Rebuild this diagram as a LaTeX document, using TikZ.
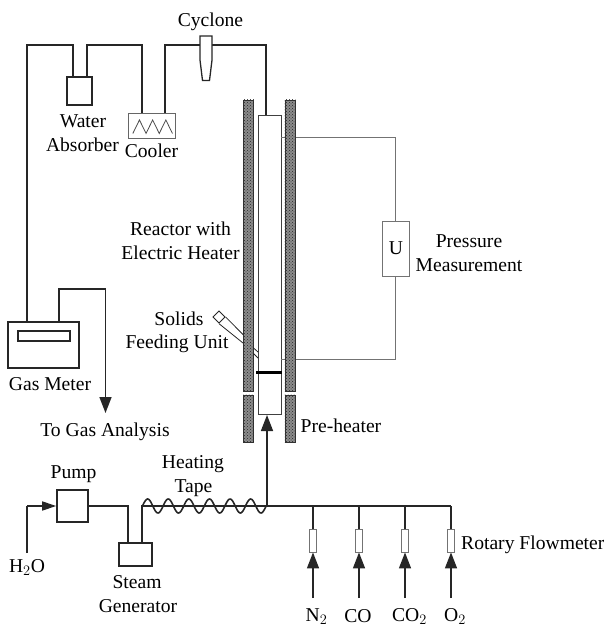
\documentclass[tikz,border=0pt]{standalone}
\usepackage{fontspec}
\setmainfont{Liberation Serif}
\usepackage{tikz}
\usetikzlibrary{arrows.meta,positioning,calc,patterns}

\tikzset{
  pipe/.style={line width=1.6pt, black!85},
  thinline/.style={line width=0.8pt, black!55},
  feed/.style={pipe, -{Triangle[length=16pt,width=12pt]}},
  unitbox/.style={draw, black!85, line width=1.6pt, fill=white, inner sep=0pt},
  heater/.style={draw, black!80, line width=0.7pt, fill=black!45, inner sep=0pt, minimum width=10pt},
  meterbox/.style={draw, black!55, line width=0.9pt, fill=white, inner sep=0pt, minimum width=7pt, minimum height=23pt},
  lbl/.style={font=\fontsize{19.6}{24}\selectfont, inner sep=0pt, anchor=base},
  lblw/.style={lbl, anchor=base west},
}

\begin{document}
\begin{tikzpicture}[x=1pt,y=-1pt]
  \useasboundingbox (0,0) rectangle (603,626);

  % reactor and pressure loop first, the heaters sit on top
  \node[draw, black!75, line width=1pt, fill=white, inner sep=0pt, minimum width=23pt, minimum height=299pt] (reactor) at (269.5,264.5) {};
  \coordinate (tapA) at (281,137);
  \coordinate (tapB) at (281,359);
  \node[draw, black!55, line width=0.9pt, fill=white, inner sep=0pt, minimum width=27pt, minimum height=55pt] (ubox) at (395.5,248.5) {};
  \node[lbl] (lu) at (396,254) {U};
  \draw[thinline] (tapA) -| (ubox.north);
  \draw[thinline] (tapB) -| (ubox.south);

  \node[heater, minimum height=291pt] (heatL) at (248.5,245.5) {};
  \node[heater, minimum height=291pt] (heatR) at (290,245.5) {};
  \node[heater, minimum height=47pt] (preL) at (248.5,418.5) {};
  \node[heater, minimum height=47pt] (preR) at (290,418.5) {};
  \foreach \n in {heatL,heatR,preL,preR}
    \fill[pattern=crosshatch dots, pattern color=black!85] (\n.south west) rectangle (\n.north east);

  % distributor plate
  \coordinate (plateL) at (256,372);
  \coordinate (plateR) at (282,372);
  \draw[line width=3pt, black] (plateL) -- (plateR);

  % solids feeding tube
  \node[draw, black!85, line width=0.9pt, fill=white, rotate=45, inner sep=0pt, minimum size=8.5pt] (feeder) at (219,317) {};
  \coordinate (feedA) at (243,343);
  \coordinate (feedB) at (243.5,335);
  \coordinate (feedC) at (253,347.5);
  \coordinate (feedD) at (258,352);
  \coordinate (feedE) at (253,353);
  \coordinate (feedF) at (258,358);
  \draw[thinline, black!85] (feeder.south west) -- (feedA);
  \draw[thinline, black!85] (feeder.south east) -- (feedB);
  \draw[thinline, black!85] (feedC) -- (feedD);
  \draw[thinline, black!85] (feedE) -- (feedF);

  % top line
  \node[unitbox, minimum width=25pt, minimum height=28pt] (absorber) at (79.5,91) {};
  \node[draw, black!60, line width=0.9pt, fill=white, inner sep=0pt, minimum width=47pt, minimum height=25pt] (cooler) at (151.5,126) {};
  \node[unitbox, minimum width=71pt, minimum height=46pt] (meter) at (43.5,345) {};
  \node[unitbox, minimum width=52pt, minimum height=10pt] (window) at (44,336) {};
  \coordinate (topA) at (266,45);
  \draw[pipe] (reactor.north -| topA) -- (topA) -- (165,45) -- (cooler.north -| 165,0);
  \draw[pipe] (cooler.north -| 142,0) -- (142,45) -- (87,45) -- (absorber.north -| 87,0);
  \draw[pipe] (absorber.north -| 73,0) -- (73,45) -- (27,45) -- (meter.north -| 27,0);
  \draw[thinline, black!70] ($(cooler.south west)+(5.3,-5.5)$) -- ++(6.6,-13.5) -- ++(6.6,13.5) -- ++(6.6,-13.5) -- ++(6.6,13.5) -- ++(6.6,-13.5) -- ++(6.6,13.5);
  \draw[unitbox, line width=1.3pt] (200,36) -- (212,36) -- (212,60) -- (209.5,80.5) -- (202.5,80.5) -- (200,60) -- cycle;

  % gas meter outlet
  \coordinate (outA) at (59,289);
  \coordinate (outB) at (105.5,289);
  \coordinate (outC) at (105.5,413);
  \draw[pipe] (meter.north -| outA) -- (outA) -- (outB);
  \draw[feed] (outB) -- (outC);

  % bottom line
  \node[unitbox, minimum width=31pt, minimum height=32pt] (pump) at (72.5,506) {};
  \node[unitbox, minimum width=33pt, minimum height=23pt] (steam) at (135.5,554.5) {};
  \coordinate (waterIn) at (27,553);
  \coordinate (waterUp) at (27,506);
  \coordinate (mainA) at (142,506);
  \coordinate (mainB) at (451,506);
  \coordinate (pumpOut) at (128,506);
  \draw[pipe] (waterIn) -- (waterUp);
  \draw[pipe, -{Triangle[length=14pt,width=9pt]}] (waterUp) -- (pump.west);
  \draw[pipe] (pump.east) -- (pumpOut) -- (steam.north -| pumpOut);
  \draw[pipe] (steam.north -| mainA) -- (mainA) -- (mainB);
  \draw[pipe, domain=0:6, samples=150, smooth, variable=\t] plot ({142.5+20.6*\t},{506-7*sin(360*\t)});
  \coordinate (mainUp) at (267,506);
  \coordinate (reactorIn) at (267,415);
  \draw[feed] (mainUp) -- (reactorIn);

  % gas feeds
  \foreach \x/\n in {313/nit,359/cmo,405/cdi,451/oxy} {
    \node[meterbox] (\n) at (\x,540.5) {};
    \coordinate (\n top) at (\x,506);
    \coordinate (\n in) at (\x,598);
    \draw[pipe] (\n top) -- (\n.north);
    \draw[feed] (\n in) -- (\n.south);
  }

  % labels
  \node[lbl] (lcyclone) at (210.5,26.5) {Cyclone};
  \node[lbl] (lwater) at (83,127) {Water};
  \node[lbl] (labsorber) at (82.5,151) {Absorber};
  \node[lbl] (lcooler) at (151.5,157) {Cooler};
  \node[lbl] (lreactor) at (180.5,235) {Reactor with};
  \node[lbl] (lelectric) at (180.5,259) {Electric Heater};
  \node[lbl] (lpressure) at (469,247) {Pressure};
  \node[lbl] (lmeasure) at (469,271) {Measurement};
  \node[lbl] (lsolids) at (179,325) {Solids};
  \node[lbl] (lfeeding) at (177,348) {Feeding Unit};
  \node[lbl] (lgas) at (50,390) {Gas Meter};
  \node[lbl] (lanalysis) at (105,436) {To Gas Analysis};
  \node[lblw] (lpre) at (300.5,432) {Pre-heater};
  \node[lbl] (lpump) at (73.5,478) {Pump};
  \node[lbl] (lheating) at (193,468) {Heating};
  \node[lbl] (ltape) at (193.5,492) {Tape};
  \node[lbl] (lwaterin) at (27,572) {H$_2$O};
  \node[lbl] (lsteam) at (137,588) {Steam};
  \node[lbl] (lgenerator) at (138,612) {Generator};
  \node[lblw] (lrotary) at (461,549) {Rotary Flowmeter};
  \node[lbl] (lnit) at (316.5,621) {N$_2$};
  \node[lbl] (lcmo) at (358,622) {CO};
  \node[lbl] (lcdi) at (409.5,621) {CO$_2$};
  \node[lbl] (loxy) at (455,621) {O$_2$};
\end{tikzpicture}
\end{document}
